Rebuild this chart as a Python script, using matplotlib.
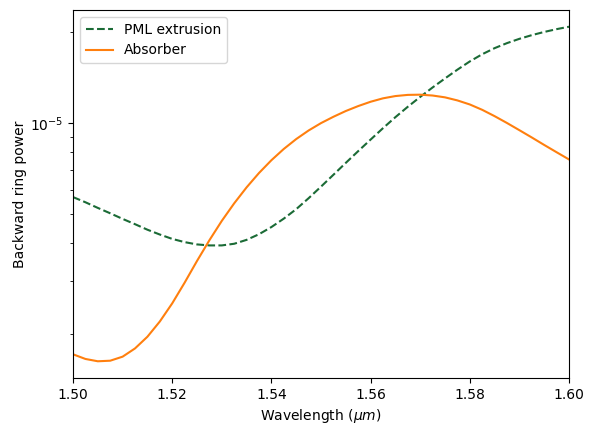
import matplotlib
matplotlib.use("Agg")
import matplotlib.pyplot as plt
import numpy as np

wavelength = np.linspace(1.5, 1.6, 41)
pml = [5.68e-6, 5.46e-6, 5.23e-6, 5.02e-6, 4.81e-6, 4.62e-6, 4.43e-6, 4.27e-6, 4.13e-6, 4.03e-6,
       3.96e-6, 3.93e-6, 3.93e-6, 3.98e-6, 4.10e-6, 4.28e-6, 4.52e-6, 4.82e-6, 5.18e-6, 5.63e-6,
       6.15e-6, 6.73e-6, 7.37e-6, 8.06e-6, 8.80e-6, 9.60e-6, 1.044e-5, 1.130e-5, 1.218e-5, 1.309e-5,
       1.402e-5, 1.499e-5, 1.596e-5, 1.686e-5, 1.766e-5, 1.835e-5, 1.896e-5, 1.950e-5, 1.998e-5, 2.041e-5,
       2.079e-5]
absorber = [1.715e-6, 1.655e-6, 1.626e-6, 1.633e-6, 1.684e-6, 1.793e-6, 1.960e-6, 2.201e-6, 2.527e-6, 2.958e-6,
            3.491e-6, 4.088e-6, 4.738e-6, 5.416e-6, 6.116e-6, 6.823e-6, 7.520e-6, 8.195e-6, 8.835e-6, 9.432e-6,
            9.977e-6, 1.047e-5, 1.094e-5, 1.136e-5, 1.174e-5, 1.205e-5, 1.226e-5, 1.237e-5, 1.239e-5, 1.231e-5,
            1.214e-5, 1.186e-5, 1.150e-5, 1.104e-5, 1.052e-5, 9.985e-6, 9.453e-6, 8.943e-6, 8.448e-6, 7.992e-6,
            7.565e-6]
xticks = [1.50, 1.52, 1.54, 1.56, 1.58, 1.60]
xtick_labels = ["1.50", "1.52", "1.54", "1.56", "1.58", "1.60"]

W, H = 594, 436
fig = plt.figure(figsize=(W / 100, H / 100), dpi=100)
ax = fig.add_axes([73 / W, (H - 378) / H, 496 / W, 368 / H])
ax.plot(wavelength, pml, linestyle="--", color="#1b6b36", label="PML extrusion")
ax.plot(wavelength, absorber, color="#ff7f0e", label="Absorber")
ax.set_yscale("log")
ax.set_xlim(1.5, 1.6)
ax.set_xticks(xticks)
ax.set_xticklabels(xtick_labels)
ax.set_xlabel(r"Wavelength ($\mu m$)")
ax.set_ylabel("Backward ring power", labelpad=2)
ax.legend(loc="upper left")
fig.savefig("out.png", dpi=100)
